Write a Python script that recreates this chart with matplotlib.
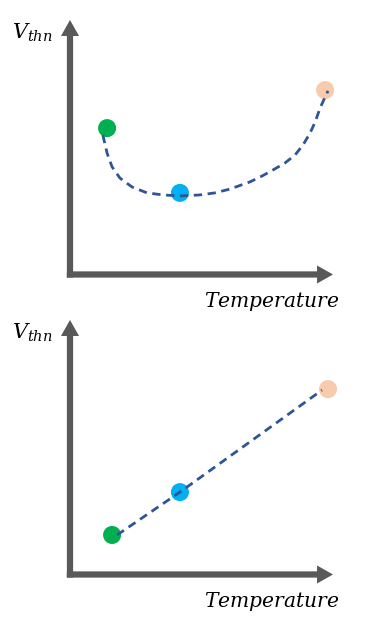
import matplotlib.pyplot as plt

# === DATA (arbitrary units 0..10) ===
# top panel: U-shaped Vthn vs temperature
top_curve_x = [1.25, 1.41, 1.60, 1.90, 2.36, 2.93, 3.54, 4.18, 4.94, 5.51,
               6.08, 6.84, 7.30, 7.72, 8.17, 8.56, 8.86, 9.13, 9.32, 9.51,
               9.70, 9.81]
top_curve_y = [5.49, 4.78, 4.24, 3.80, 3.45, 3.22, 3.14, 3.10, 3.14, 3.22,
               3.37, 3.65, 3.88, 4.12, 4.39, 4.71, 5.10, 5.57, 6.00, 6.55,
               6.98, 7.22]
top_pts_x = [1.41, 4.18, 9.70]
top_pts_y = [5.76, 3.22, 7.25]

# bottom panel: near-linear Vthn vs temperature
bot_curve_x = [1.79, 4.18, 9.58]
bot_curve_y = [1.57, 3.25, 7.25]
bot_pts_x = [1.60, 4.18, 9.81]
bot_pts_y = [1.57, 3.25, 7.29]

pt_colors = ["#00B050", "#00B0F0", "#F8CBAD"]
y_label = r"$V_{thn}$"
x_label = r"$Temperature$"

AXIS_GRAY = "#595959"
LINE_BLUE = "#2F5597"
W, H = 366, 625

plt.rcParams["mathtext.fontset"] = "dejavuserif"

fig = plt.figure(figsize=(W / 100, H / 100), dpi=100)


def panel(top_px, curve_x, curve_y, pts_x, pts_y):
    # axes box in pixels: x 70..333, y top_px..top_px+255
    ax = fig.add_axes([70 / W, 1 - (top_px + 255) / H, 263 / W, 255 / H])
    ax.set_xlim(0, 10)
    ax.set_ylim(0, 10)
    ax.axis("off")

    # filled arrows with flat tails so the corner is square
    arrow = dict(arrowstyle="simple,head_length=1.15,head_width=1.3,tail_width=0.45",
                 lw=0, color=AXIS_GRAY, shrinkA=0, shrinkB=0, mutation_scale=10)
    ax.annotate("", xy=(1.0, 0.002), xytext=(-0.012, 0.002), xycoords="axes fraction", arrowprops=arrow)
    ax.annotate("", xy=(0, 1.0), xytext=(0, -0.01), xycoords="axes fraction", arrowprops=arrow)

    ax.scatter(pts_x, pts_y, s=13 ** 2, c=pt_colors, linewidths=0, zorder=2, clip_on=False)
    ax.plot(curve_x, curve_y, color=LINE_BLUE, lw=2.0, dashes=(3, 2),
            zorder=3, clip_on=False)

    fig.text(12 / W, 1 - (top_px + 19) / H, y_label, fontsize=15, ha="left", va="baseline")
    fig.text(339 / W, 1 - (top_px + 287) / H, x_label, fontsize=14.6, ha="right", va="baseline")
    return ax


panel(20, top_curve_x, top_curve_y, top_pts_x, top_pts_y)
panel(320, bot_curve_x, bot_curve_y, bot_pts_x, bot_pts_y)

fig.savefig("out.png", dpi=100, facecolor="white")
